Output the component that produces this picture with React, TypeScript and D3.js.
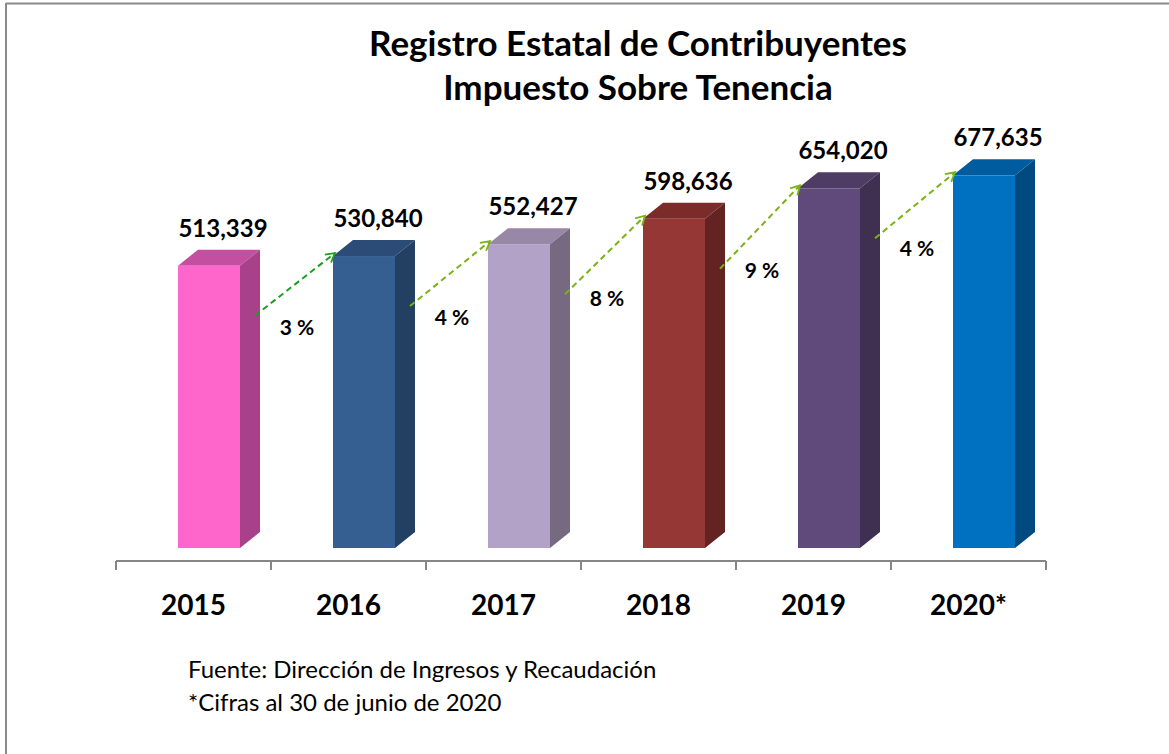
import React from "react";
import * as d3 from "d3";

const years = ["2015", "2016", "2017", "2018", "2019", "2020*"];
const values = [513339, 530840, 552427, 598636, 654020, 677635];
const frontColors = ["#FF66CC", "#355E91", "#B3A2C7", "#953735", "#604A7B", "#0070C0"];
const sideColors = ["#A8418A", "#233F61", "#77697F", "#632322", "#3F3051", "#004A80"];
const topColors = ["#C44FA0", "#2B4C77", "#9887A6", "#7A2B2A", "#4E3C65", "#005C9E"];
const titleLines = ["Registro Estatal de Contribuyentes", "Impuesto Sobre Tenencia"];
const footerLines = ["Fuente: Dirección de Ingresos y Recaudación", "*Cifras al 30 de junio de 2020"];
const arrowColors = ["#1E9E1E", "#7AB317", "#7AB317", "#7AB317", "#7AB317"];

const W = 1169;
const H = 754;

export default function App() {
  const x = d3.scaleBand<string>().domain(years).range([116, 1046]).paddingInner(0).paddingOuter(0);
  const y = d3.scaleLinear().domain([0, 700000]).range([548, 163]);
  const bw = 62;
  const dx = 20;
  const dy = 16;
  const axisY = 561;
  const fmt = d3.format(",");
  const font = "Lato, 'Open Sans', sans-serif";

  const bars = years.map((yr, i) => {
    const x0 = (x(yr) as number) + 62;
    const top = y(values[i]);
    return { yr, i, x0, top };
  });

  const ticks = d3.range(years.length + 1).map((k) => 116 + k * x.bandwidth());

  return (
    <svg width={W} height={H} style={{ position: "absolute", left: 0, top: 0, background: "#fff" }} fontFamily={font}>
      <defs>
        {arrowColors.map((c, i) => (
          <marker key={i} id={`ah${i}`} viewBox="0 0 12 12" refX="10" refY="6" markerWidth="12" markerHeight="12" markerUnits="userSpaceOnUse" orient="auto">
            <path d="M1,1 L10,6 L1,11" fill="none" stroke={c} strokeWidth={1.8} />
          </marker>
        ))}
      </defs>
      <rect x={0} y={0} width={W} height={H} fill="#fff" />
      <line x1={6} y1={3.5} x2={W} y2={3.5} stroke="#8a8a8a" strokeWidth={2} />
      <line x1={6} y1={3} x2={6} y2={H} stroke="#8a8a8a" strokeWidth={2} />

      {titleLines.map((t, i) => (
        <text key={t} x={638} y={56 + i * 44} textAnchor="middle" fontSize={35} fontWeight="bold" fill="#000">
          {t}
        </text>
      ))}

      {/* axis */}
      <line x1={116} y1={axisY} x2={1046} y2={axisY} stroke="#868686" strokeWidth={2} />
      {ticks.map((t, k) => (
        <line key={k} x1={t} y1={axisY} x2={t} y2={axisY + 9} stroke="#868686" strokeWidth={2} />
      ))}
      {years.map((yr) => (
        <text key={yr} x={(x(yr) as number) + x.bandwidth() / 2} y={615} textAnchor="middle" fontSize={28} fontWeight="bold" fill="#000">
          {yr}
        </text>
      ))}

      {/* bars */}
      {bars.map((b) => {
        const base = y(0);
        return (
          <g key={b.yr}>
            <polygon
              points={`${b.x0},${b.top} ${b.x0 + dx},${b.top - dy} ${b.x0 + bw + dx},${b.top - dy} ${b.x0 + bw},${b.top}`}
              fill={topColors[b.i]}
            />
            <polygon
              points={`${b.x0 + bw},${b.top} ${b.x0 + bw + dx},${b.top - dy} ${b.x0 + bw + dx},${base - dy} ${b.x0 + bw},${base}`}
              fill={sideColors[b.i]}
            />
            <rect x={b.x0} y={b.top} width={bw} height={base - b.top} fill={frontColors[b.i]} />
            <text x={b.x0 + bw / 2 + 14} y={b.top - dy - 13} textAnchor="middle" fontSize={24} fontWeight="bold" fill="#000">
              {fmt(values[b.i])}
            </text>
          </g>
        );
      })}

      {/* growth arrows */}
      {bars.slice(1).map((b, k) => {
        const p = bars[k];
        const sx = p.x0 + bw + 15;
        const sy = p.top + 50;
        const ex = b.x0 + 2;
        const ey = b.top - 3;
        const pct = Math.round((values[k + 1] / values[k] - 1) * 100);
        return (
          <g key={b.yr}>
            <line x1={sx} y1={sy} x2={ex} y2={ey} stroke={arrowColors[k]} strokeWidth={2} strokeDasharray="6,4" markerEnd={`url(#ah${k})`} />
            <text x={(sx + ex) / 2 + 2} y={(sy + ey) / 2 + 51} textAnchor="middle" fontSize={21} fontWeight="bold" fill="#000">
              {`${pct} %`}
            </text>
          </g>
        );
      })}

      {footerLines.map((t, i) => (
        <text key={t} x={188} y={678 + i * 33} fontSize={24} fill="#000">
          {t}
        </text>
      ))}
    </svg>
  );
}
